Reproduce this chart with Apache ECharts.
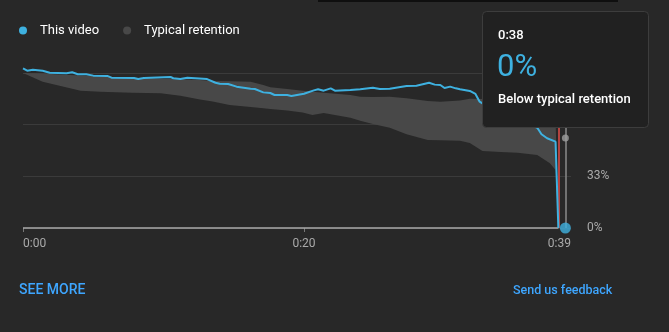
<!DOCTYPE html>
<html>
<head>
<meta charset="utf-8">
<script src="https://cdn.jsdelivr.net/npm/echarts@6/dist/echarts.min.js"></script>
<style>
html,body{margin:0;padding:0;background:#282828;}
#main{width:669px;height:332px;}
</style>
</head>
<body>
<div id="main"></div>
<script>
// audience retention (time in seconds, values in %)
var videoTimes = [0, 0.3, 0.7, 1.4, 1.9, 3.1, 3.5, 3.9, 4.5, 5.0, 6.0, 6.3, 7.9, 8.2, 8.6, 10.5, 10.7, 11.2, 11.7, 13.1,
  13.7, 14.0, 14.6, 15.2, 16.2, 16.5, 17.1, 17.6, 17.9, 18.8, 19.1, 20.0, 20.7, 21.0, 21.4, 21.9, 22.2, 23.3, 24.0, 24.9,
  25.4, 26.1, 27.3, 28.0, 28.9, 29.3, 29.7, 30.0, 30.4, 30.8, 31.1, 31.8, 32.2, 32.5, 33.2, 34.0, 34.7, 35.4, 36.1, 36.6,
  36.9, 37.3, 37.9, 38.1];
var videoValues = [103.0, 101.5, 102.1, 101.5, 100.2, 99.8, 100.5, 99.2, 99.2, 98.3, 98.1, 97.0, 96.8, 96.1, 96.8, 97.4, 96.6, 96.1, 97.0, 96.1,
  93.7, 93.1, 92.9, 91.2, 89.9, 89.7, 87.5, 87.1, 85.8, 85.8, 85.2, 86.6, 88.8, 89.5, 88.6, 90.1, 88.6, 89.0, 89.5, 90.5,
  89.7, 89.9, 91.6, 91.8, 93.7, 92.5, 92.3, 90.3, 91.2, 90.1, 89.5, 88.4, 86.5, 81.5, 77.4, 74.2, 71.6, 69.0, 66.5, 64.7,
  60.5, 57.9, 55.7, 0];

var typTimes = [0, 1.4, 2.6, 4.1, 5.5, 7.8, 9.8, 11.2, 12.6, 13.5, 14.7, 16.2, 17.1, 17.6, 18.8, 19.9, 20.6, 21.4, 23.3, 24.0,
  24.9, 26.1, 27.3, 28.8, 29.7, 31.1, 31.8, 32.7, 34.0, 35.2, 36.6, 37.5, 37.9, 38.1];
var typLow = [100, 94.4, 91.8, 88.6, 87.9, 87.3, 86.9, 85.4, 82.9, 81.6, 79.4, 78.1, 77.2, 76.8, 75.8, 74.5, 72.9, 74.2, 71.2, 69.2,
  67.1, 64.7, 60.5, 56.8, 56.6, 56.3, 54.8, 49.7, 49.0, 48.6, 47.1, 41.7, 37.4, 0];
var typHigh = [100, 99.7, 99.0, 98.4, 97.7, 96.9, 96.3, 95.9, 95.5, 94.8, 94.7, 94.4, 92.3, 90.8, 89.7, 88.6, 87.9, 87.2, 85.8, 84.7,
  84.5, 84.6, 83.7, 81.9, 81.5, 82.3, 83.4, 83.2, 80.6, 77.4, 74.8, 72.9, 71.0, 0];

var xTickLabels = [0, 20, 39];
var xTicks = [0, 20];
var videoEnd = 38.1;
var hoverTime = 38.6;
var hoverVideo = 0;
var hoverTypical = 58;

var BLUE = '#3eb1e0';
var LINK = '#3ea6ff';
var BAND = '#484848';

function fmtTime(s) {
  s = Math.floor(s);
  var m = Math.floor(s / 60), r = s % 60;
  return m + ':' + (r < 10 ? '0' : '') + r;
}

var videoData = videoTimes.map(function (t, i) { return [t, videoValues[i]]; });
var bandData = typTimes.map(function (t, i) { return [t, typLow[i], typHigh[i]]; });

// band polygon: upper edge left->right, lower edge right->left
function renderBand(params, api) {
  if (params.dataIndex !== 0) return;
  var pts = [];
  for (var i = 0; i < bandData.length; i++) pts.push(api.coord([bandData[i][0], bandData[i][2]]));
  for (var j = bandData.length - 1; j >= 0; j--) pts.push(api.coord([bandData[j][0], bandData[j][1]]));
  return {
    type: 'polygon',
    shape: { points: pts },
    style: { fill: BAND }
  };
}

var myChart = echarts.init(document.getElementById('main'));

var option = {
  backgroundColor: '#282828',
  animation: false,
  textStyle: { fontFamily: 'Roboto' },
  legend: {
    left: 19,
    top: 24,
    padding: 0,
    itemWidth: 8,
    itemHeight: 8,
    itemGap: 24,
    selectedMode: false,
    textStyle: { color: '#ffffff', fontSize: 13, padding: [0, 0, 0, 8] },
    data: [
      { name: 'This video', icon: 'circle', itemStyle: { color: BLUE } },
      { name: 'Typical retention', icon: 'circle', itemStyle: { color: BAND } }
    ]
  },
  grid: { left: 23, right: 98, top: 73, bottom: 104 },
  xAxis: {
    type: 'value',
    min: 0,
    max: 39,
    splitLine: { show: false },
    axisLine: { show: false },
    axisTick: { show: true, customValues: xTicks, length: 4, lineStyle: { color: '#777' } },
    axisLabel: {
      customValues: xTickLabels,
      formatter: fmtTime,
      color: '#aaaaaa',
      fontSize: 12,
      margin: 10,
      alignMinLabel: 'left',
      alignMaxLabel: 'right'
    }
  },
  yAxis: {
    type: 'value',
    position: 'right',
    min: 0,
    max: 100,
    interval: 100 / 3,
    axisLine: { show: false },
    axisTick: { show: false },
    splitLine: { lineStyle: { color: '#3b3b3b', width: 1 } },
    axisLabel: {
      color: '#aaaaaa',
      fontSize: 12,
      margin: 16,
      formatter: function (v) { return Math.floor(v + 0.001) + '%'; }
    }
  },
  series: [
    {
      name: 'Typical retention',
      type: 'custom',
      data: bandData,
      encode: { x: 0, y: [1, 2] },
      renderItem: renderBand,
      silent: true,
      clip: false,
      z: 2,
      itemStyle: { color: BAND }
    },
    {
      name: 'This video',
      type: 'line',
      data: videoData,
      symbol: 'none',
      silent: true,
      clip: false,
      z: 5,
      itemStyle: { color: BLUE },
      lineStyle: { color: BLUE, width: 2 },
      markLine: {
        silent: true,
        symbol: 'none',
        label: { show: false },
        data: [
          [{ coord: [0, 0], lineStyle: { color: '#aaaaaa', width: 1.5, type: 'solid' } }, { coord: [videoEnd, 0] }],
          { xAxis: videoEnd, lineStyle: { color: '#b5433f', width: 2, type: 'solid' } },
          { xAxis: hoverTime, lineStyle: { color: '#8a8a8a', width: 1.5, type: 'solid' } }
        ]
      }
    },
    {
      name: 'hover',
      type: 'scatter',
      silent: true,
      clip: false,
      z: 10,
      data: [
        { value: [hoverTime, hoverTypical], symbolSize: 7, itemStyle: { color: '#9e9e9e' } },
        { value: [hoverTime, hoverVideo], symbolSize: 11, itemStyle: { color: BLUE } }
      ]
    }
  ],
  graphic: [
    { type: 'rect', left: 318, top: 0, zlevel: 1, z: 100, shape: { width: 300, height: 2 }, style: { fill: '#0f0f0f' } },
    { type: 'rect', left: 482, top: 11, zlevel: 1, z: 100, shape: { width: 166, height: 116, r: 4 }, style: { fill: '#212121', stroke: '#3d3d3d', lineWidth: 1 } },
    { type: 'text', left: 498, top: 29, zlevel: 1, z: 101, style: { text: fmtTime(hoverTime), fill: '#ffffff', font: '500 13px Roboto' } },
    { type: 'text', left: 497, top: 53, zlevel: 1, z: 101, style: { text: hoverVideo + '%', fill: BLUE, font: '400 31px Roboto' } },
    { type: 'text', left: 498, top: 93, zlevel: 1, z: 101, style: { text: 'Below typical retention', fill: '#ffffff', font: '500 13px Roboto' } },
    { type: 'text', left: 19, top: 283, z: 100, style: { text: 'SEE MORE', fill: LINK, font: '500 14px Roboto' } },
    { type: 'text', left: 513, top: 284, z: 100, style: { text: 'Send us feedback', fill: LINK, font: '500 12.5px Roboto' } }
  ]
};

myChart.setOption(option);
</script>
</body>
</html>
